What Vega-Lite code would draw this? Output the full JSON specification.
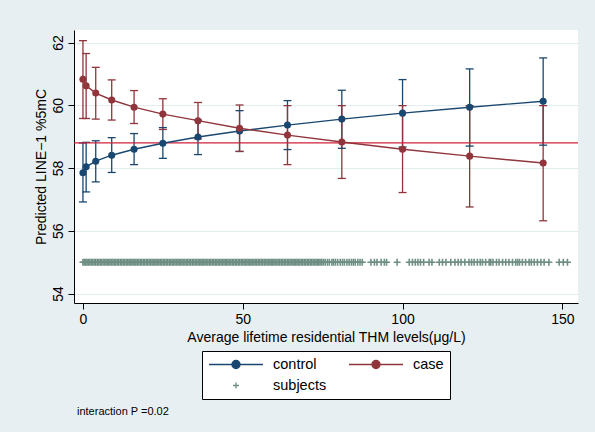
{
  "$schema": "https://vega.github.io/schema/vega-lite/v6.json",
  "width": 504,
  "height": 273,
  "autosize": {"type": "none"},
  "padding": {"left": 74, "top": 30, "right": 17, "bottom": 129},
  "background": "#e8eff2",
  "config": {
    "view": {"fill": "white", "stroke": null},
    "font": "Liberation Sans",
    "axis": {
      "labelFont": "Liberation Sans",
      "labelFontSize": 14,
      "labelColor": "black",
      "titleFont": "Liberation Sans",
      "titleFontSize": 14,
      "titleFontWeight": "normal",
      "titleColor": "black",
      "domainColor": "black",
      "domainWidth": 1,
      "tickColor": "black",
      "tickSize": 6,
      "tickWidth": 1,
      "labelFlush": false,
      "labelOverlap": false
    }
  },
  "title": {
    "text": "interaction P =0.02",
    "orient": "bottom",
    "anchor": "start",
    "frame": "group",
    "font": "Liberation Sans",
    "fontSize": 11,
    "fontWeight": "normal",
    "color": "black",
    "offset": 6,
    "dx": 3
  },
  "datasets": {
    "margins": [
      {"series": "control", "thm": 0, "pred": 57.85, "lo": 56.92, "hi": 58.8},
      {"series": "control", "thm": 1, "pred": 58.04, "lo": 57.24, "hi": 58.82},
      {"series": "control", "thm": 4, "pred": 58.22, "lo": 57.56, "hi": 58.87},
      {"series": "control", "thm": 9, "pred": 58.41, "lo": 57.86, "hi": 58.97},
      {"series": "control", "thm": 16, "pred": 58.6, "lo": 58.11, "hi": 59.1},
      {"series": "control", "thm": 25, "pred": 58.79, "lo": 58.31, "hi": 59.29},
      {"series": "control", "thm": 36, "pred": 58.99, "lo": 58.43, "hi": 59.53},
      {"series": "control", "thm": 49, "pred": 59.18, "lo": 58.53, "hi": 59.83},
      {"series": "control", "thm": 64, "pred": 59.37, "lo": 58.59, "hi": 60.15},
      {"series": "control", "thm": 81, "pred": 59.56, "lo": 58.63, "hi": 60.48},
      {"series": "control", "thm": 100, "pred": 59.75, "lo": 58.67, "hi": 60.82},
      {"series": "control", "thm": 121, "pred": 59.94, "lo": 58.7, "hi": 61.16},
      {"series": "control", "thm": 144, "pred": 60.13, "lo": 58.73, "hi": 61.51},
      {"series": "case", "thm": 0, "pred": 60.83, "lo": 59.58, "hi": 62.06},
      {"series": "case", "thm": 1, "pred": 60.62, "lo": 59.58, "hi": 61.65},
      {"series": "case", "thm": 4, "pred": 60.39, "lo": 59.56, "hi": 61.21},
      {"series": "case", "thm": 9, "pred": 60.17, "lo": 59.53, "hi": 60.81},
      {"series": "case", "thm": 16, "pred": 59.94, "lo": 59.42, "hi": 60.47},
      {"series": "case", "thm": 25, "pred": 59.72, "lo": 59.23, "hi": 60.21},
      {"series": "case", "thm": 36, "pred": 59.51, "lo": 58.93, "hi": 60.09},
      {"series": "case", "thm": 49, "pred": 59.27, "lo": 58.53, "hi": 60.01},
      {"series": "case", "thm": 64, "pred": 59.05, "lo": 58.11, "hi": 59.99},
      {"series": "case", "thm": 81, "pred": 58.83, "lo": 57.67, "hi": 59.99},
      {"series": "case", "thm": 100, "pred": 58.6, "lo": 57.22, "hi": 59.99},
      {"series": "case", "thm": 121, "pred": 58.38, "lo": 56.76, "hi": 59.99},
      {"series": "case", "thm": 144, "pred": 58.16, "lo": 56.32, "hi": 59.99}
    ],
    "subjects": [
      {"series": "subjects", "thm": 0}, {"series": "subjects", "thm": 0.4}, {"series": "subjects", "thm": 0.9}, {"series": "subjects", "thm": 1.3},
      {"series": "subjects", "thm": 1.8}, {"series": "subjects", "thm": 2.2}, {"series": "subjects", "thm": 2.7}, {"series": "subjects", "thm": 3.1},
      {"series": "subjects", "thm": 3.6}, {"series": "subjects", "thm": 4}, {"series": "subjects", "thm": 4.5}, {"series": "subjects", "thm": 4.9},
      {"series": "subjects", "thm": 5.4}, {"series": "subjects", "thm": 5.8}, {"series": "subjects", "thm": 6.3}, {"series": "subjects", "thm": 6.7},
      {"series": "subjects", "thm": 7.2}, {"series": "subjects", "thm": 7.6}, {"series": "subjects", "thm": 8.1}, {"series": "subjects", "thm": 8.5},
      {"series": "subjects", "thm": 9}, {"series": "subjects", "thm": 9.4}, {"series": "subjects", "thm": 9.9}, {"series": "subjects", "thm": 10.3},
      {"series": "subjects", "thm": 10.8}, {"series": "subjects", "thm": 11.2}, {"series": "subjects", "thm": 11.7}, {"series": "subjects", "thm": 12.1},
      {"series": "subjects", "thm": 12.6}, {"series": "subjects", "thm": 13}, {"series": "subjects", "thm": 13.5}, {"series": "subjects", "thm": 13.9},
      {"series": "subjects", "thm": 14.4}, {"series": "subjects", "thm": 14.8}, {"series": "subjects", "thm": 15.3}, {"series": "subjects", "thm": 15.7},
      {"series": "subjects", "thm": 16.2}, {"series": "subjects", "thm": 16.6}, {"series": "subjects", "thm": 17.1}, {"series": "subjects", "thm": 17.5},
      {"series": "subjects", "thm": 18}, {"series": "subjects", "thm": 18.4}, {"series": "subjects", "thm": 18.9}, {"series": "subjects", "thm": 19.3},
      {"series": "subjects", "thm": 19.8}, {"series": "subjects", "thm": 20.2}, {"series": "subjects", "thm": 20.7}, {"series": "subjects", "thm": 21.1},
      {"series": "subjects", "thm": 21.6}, {"series": "subjects", "thm": 22}, {"series": "subjects", "thm": 22.5}, {"series": "subjects", "thm": 22.9},
      {"series": "subjects", "thm": 23.4}, {"series": "subjects", "thm": 23.8}, {"series": "subjects", "thm": 24.3}, {"series": "subjects", "thm": 24.7},
      {"series": "subjects", "thm": 25.2}, {"series": "subjects", "thm": 25.6}, {"series": "subjects", "thm": 26.1}, {"series": "subjects", "thm": 26.5},
      {"series": "subjects", "thm": 27}, {"series": "subjects", "thm": 27.4}, {"series": "subjects", "thm": 27.9}, {"series": "subjects", "thm": 28.3},
      {"series": "subjects", "thm": 28.8}, {"series": "subjects", "thm": 29.2}, {"series": "subjects", "thm": 29.7}, {"series": "subjects", "thm": 30.1},
      {"series": "subjects", "thm": 30.6}, {"series": "subjects", "thm": 31}, {"series": "subjects", "thm": 31.5}, {"series": "subjects", "thm": 31.9},
      {"series": "subjects", "thm": 32.4}, {"series": "subjects", "thm": 32.8}, {"series": "subjects", "thm": 33.3}, {"series": "subjects", "thm": 33.7},
      {"series": "subjects", "thm": 34.2}, {"series": "subjects", "thm": 34.6}, {"series": "subjects", "thm": 35.1}, {"series": "subjects", "thm": 35.5},
      {"series": "subjects", "thm": 36}, {"series": "subjects", "thm": 36.4}, {"series": "subjects", "thm": 36.9}, {"series": "subjects", "thm": 37.3},
      {"series": "subjects", "thm": 37.8}, {"series": "subjects", "thm": 38.2}, {"series": "subjects", "thm": 38.7}, {"series": "subjects", "thm": 39.1},
      {"series": "subjects", "thm": 39.6}, {"series": "subjects", "thm": 40}, {"series": "subjects", "thm": 40.5}, {"series": "subjects", "thm": 40.9},
      {"series": "subjects", "thm": 41.4}, {"series": "subjects", "thm": 41.8}, {"series": "subjects", "thm": 42.3}, {"series": "subjects", "thm": 42.7},
      {"series": "subjects", "thm": 43.2}, {"series": "subjects", "thm": 43.6}, {"series": "subjects", "thm": 44.1}, {"series": "subjects", "thm": 44.5},
      {"series": "subjects", "thm": 45}, {"series": "subjects", "thm": 45.4}, {"series": "subjects", "thm": 45.9}, {"series": "subjects", "thm": 46.3},
      {"series": "subjects", "thm": 46.8}, {"series": "subjects", "thm": 47.2}, {"series": "subjects", "thm": 47.7}, {"series": "subjects", "thm": 48.1},
      {"series": "subjects", "thm": 48.6}, {"series": "subjects", "thm": 49}, {"series": "subjects", "thm": 49.5}, {"series": "subjects", "thm": 49.9},
      {"series": "subjects", "thm": 50.4}, {"series": "subjects", "thm": 50.8}, {"series": "subjects", "thm": 51.3}, {"series": "subjects", "thm": 51.7},
      {"series": "subjects", "thm": 52.2}, {"series": "subjects", "thm": 52.6}, {"series": "subjects", "thm": 53.1}, {"series": "subjects", "thm": 53.5},
      {"series": "subjects", "thm": 54}, {"series": "subjects", "thm": 54.4}, {"series": "subjects", "thm": 54.9}, {"series": "subjects", "thm": 55.3},
      {"series": "subjects", "thm": 55.8}, {"series": "subjects", "thm": 56.2}, {"series": "subjects", "thm": 56.7}, {"series": "subjects", "thm": 57.1},
      {"series": "subjects", "thm": 57.6}, {"series": "subjects", "thm": 58}, {"series": "subjects", "thm": 58.5}, {"series": "subjects", "thm": 58.9},
      {"series": "subjects", "thm": 59.4}, {"series": "subjects", "thm": 59.8}, {"series": "subjects", "thm": 60.3}, {"series": "subjects", "thm": 60.7},
      {"series": "subjects", "thm": 61.2}, {"series": "subjects", "thm": 61.6}, {"series": "subjects", "thm": 62.1}, {"series": "subjects", "thm": 62.5},
      {"series": "subjects", "thm": 63}, {"series": "subjects", "thm": 63.4}, {"series": "subjects", "thm": 63.9}, {"series": "subjects", "thm": 64.3},
      {"series": "subjects", "thm": 64.8}, {"series": "subjects", "thm": 65.2}, {"series": "subjects", "thm": 65.7}, {"series": "subjects", "thm": 66.1},
      {"series": "subjects", "thm": 66.6}, {"series": "subjects", "thm": 67}, {"series": "subjects", "thm": 67.5}, {"series": "subjects", "thm": 67.9},
      {"series": "subjects", "thm": 68.4}, {"series": "subjects", "thm": 68.8}, {"series": "subjects", "thm": 69.3}, {"series": "subjects", "thm": 69.7},
      {"series": "subjects", "thm": 70.2}, {"series": "subjects", "thm": 70.6}, {"series": "subjects", "thm": 71.1}, {"series": "subjects", "thm": 71.5},
      {"series": "subjects", "thm": 72}, {"series": "subjects", "thm": 72.4}, {"series": "subjects", "thm": 72.9}, {"series": "subjects", "thm": 73.3},
      {"series": "subjects", "thm": 73.8}, {"series": "subjects", "thm": 74.2}, {"series": "subjects", "thm": 74.7}, {"series": "subjects", "thm": 75.2},
      {"series": "subjects", "thm": 75.8}, {"series": "subjects", "thm": 76.5}, {"series": "subjects", "thm": 77.1}, {"series": "subjects", "thm": 77.9},
      {"series": "subjects", "thm": 78.4}, {"series": "subjects", "thm": 79}, {"series": "subjects", "thm": 79.7}, {"series": "subjects", "thm": 80.5},
      {"series": "subjects", "thm": 81.2}, {"series": "subjects", "thm": 81.8}, {"series": "subjects", "thm": 82.6}, {"series": "subjects", "thm": 83.3},
      {"series": "subjects", "thm": 84}, {"series": "subjects", "thm": 84.6}, {"series": "subjects", "thm": 85.2}, {"series": "subjects", "thm": 86},
      {"series": "subjects", "thm": 86.7}, {"series": "subjects", "thm": 87.4},
      {"series": "subjects", "thm": 90.1}, {"series": "subjects", "thm": 91.2}, {"series": "subjects", "thm": 92}, {"series": "subjects", "thm": 93.3},
      {"series": "subjects", "thm": 94.3}, {"series": "subjects", "thm": 95}, {"series": "subjects", "thm": 98.3}, {"series": "subjects", "thm": 102.1},
      {"series": "subjects", "thm": 103.1}, {"series": "subjects", "thm": 104}, {"series": "subjects", "thm": 104.8}, {"series": "subjects", "thm": 105.6},
      {"series": "subjects", "thm": 106.6}, {"series": "subjects", "thm": 108.3}, {"series": "subjects", "thm": 109.2}, {"series": "subjects", "thm": 111.5},
      {"series": "subjects", "thm": 112.5}, {"series": "subjects", "thm": 113.6}, {"series": "subjects", "thm": 115.1}, {"series": "subjects", "thm": 116.4},
      {"series": "subjects", "thm": 117.4}, {"series": "subjects", "thm": 118.3}, {"series": "subjects", "thm": 119.5}, {"series": "subjects", "thm": 120.8},
      {"series": "subjects", "thm": 121.6}, {"series": "subjects", "thm": 122.4}, {"series": "subjects", "thm": 123.4}, {"series": "subjects", "thm": 124.3},
      {"series": "subjects", "thm": 125}, {"series": "subjects", "thm": 126}, {"series": "subjects", "thm": 127.1}, {"series": "subjects", "thm": 127.6},
      {"series": "subjects", "thm": 128.3}, {"series": "subjects", "thm": 129.4}, {"series": "subjects", "thm": 130.2}, {"series": "subjects", "thm": 131.3},
      {"series": "subjects", "thm": 132.3}, {"series": "subjects", "thm": 133.3}, {"series": "subjects", "thm": 134.4}, {"series": "subjects", "thm": 135.4},
      {"series": "subjects", "thm": 136}, {"series": "subjects", "thm": 136.6}, {"series": "subjects", "thm": 137.5}, {"series": "subjects", "thm": 138.5},
      {"series": "subjects", "thm": 139.6}, {"series": "subjects", "thm": 140.3}, {"series": "subjects", "thm": 141.2}, {"series": "subjects", "thm": 142.2},
      {"series": "subjects", "thm": 143.3}, {"series": "subjects", "thm": 144.3}, {"series": "subjects", "thm": 145.8}, {"series": "subjects", "thm": 149},
      {"series": "subjects", "thm": 150.3}, {"series": "subjects", "thm": 151.6}
    ],
    "reference": [{"ref": 58.8}]
  },
  "layer": [
    {
      "data": {"name": "subjects"},
      "mark": {"type": "point", "shape": "M-1,0H1M0,-1V1", "size": 49, "filled": false, "strokeWidth": 1.6, "opacity": 1},
      "encoding": {
        "x": {
          "field": "thm", "type": "quantitative",
          "scale": {"domain": [-2.8, 154.9], "nice": false, "zero": false},
          "axis": {"values": [0, 50, 100, 150], "grid": false, "labelPadding": 3, "titlePadding": 4, "title": "Average lifetime residential THM levels(μg/L)"}
        },
        "y": {
          "datum": 55, "type": "quantitative",
          "scale": {"domain": [53.7, 62.4], "nice": false, "zero": false},
          "axis": {"values": [54, 56, 58, 60, 62], "grid": true, "gridColor": "#e3ecef", "gridWidth": 1, "labelAngle": 270, "labelAlign": "center", "labelBaseline": "bottom", "labelPadding": 3, "titlePadding": 3, "title": "Predicted LINE−1 %5mC"}
        },
        "color": {
          "field": "series", "type": "nominal",
          "scale": {"domain": ["control", "case", "subjects"], "range": ["#1a476f", "#90353b", "#6e8e84"]},
          "legend": {
            "title": null,
            "orient": "none",
            "legendX": 128,
            "legendY": 321,
            "columns": 2,
            "direction": "horizontal",
            "symbolSize": 2916,
            "symbolStrokeWidth": 1.3,
            "labelFont": "Liberation Sans",
            "labelFontSize": 14.5,
            "labelColor": "black",
            "labelOffset": 9,
            "columnPadding": 21,
            "rowPadding": 5,
            "padding": 6,
            "clipHeight": 15,
            "strokeColor": "black",
            "fillColor": "white",
            "encoding": {
              "symbols": {
                "shape": {"value": {"expr": "datum.value === 'subjects' ? 'M-0.11,0H0.11M0,-0.11V0.11' : 'M-1,0H1M0.15,0A0.15,0.15 0 1,1 -0.15,0A0.15,0.15 0 1,1 0.15,0Z'"}},
                "fill": {"value": {"expr": "scale('color', datum.value)"}},
                "stroke": {"value": {"expr": "scale('color', datum.value)"}},
                "strokeWidth": {"value": 1.3},
                "opacity": {"value": 1}
              }
            }
          }
        }
      }
    },
    {
      "data": {"name": "margins"},
      "mark": {"type": "rule", "strokeWidth": 1.3},
      "encoding": {
        "x": {"field": "thm", "type": "quantitative"},
        "y": {"field": "lo", "type": "quantitative", "title": "Predicted LINE−1 %5mC"},
        "y2": {"field": "hi"},
        "color": {"field": "series", "type": "nominal"}
      }
    },
    {
      "data": {"name": "margins"},
      "mark": {"type": "tick", "orient": "horizontal", "size": 8, "thickness": 1.3, "opacity": 1},
      "encoding": {
        "x": {"field": "thm", "type": "quantitative"},
        "y": {"field": "lo", "type": "quantitative", "title": "Predicted LINE−1 %5mC"},
        "color": {"field": "series", "type": "nominal"}
      }
    },
    {
      "data": {"name": "margins"},
      "mark": {"type": "tick", "orient": "horizontal", "size": 8, "thickness": 1.3, "opacity": 1},
      "encoding": {
        "x": {"field": "thm", "type": "quantitative"},
        "y": {"field": "hi", "type": "quantitative", "title": "Predicted LINE−1 %5mC"},
        "color": {"field": "series", "type": "nominal"}
      }
    },
    {
      "data": {"name": "reference"},
      "mark": {"type": "rule", "color": "#d0203a", "strokeWidth": 1.2},
      "encoding": {
        "y": {"field": "ref", "type": "quantitative", "title": "Predicted LINE−1 %5mC"}
      }
    },
    {
      "data": {"name": "margins"},
      "mark": {"type": "line", "strokeWidth": 1.4},
      "encoding": {
        "x": {"field": "thm", "type": "quantitative"},
        "y": {"field": "pred", "type": "quantitative", "title": "Predicted LINE−1 %5mC"},
        "color": {"field": "series", "type": "nominal"}
      }
    },
    {
      "data": {"name": "margins"},
      "mark": {"type": "circle", "size": 50, "opacity": 1},
      "encoding": {
        "x": {"field": "thm", "type": "quantitative"},
        "y": {"field": "pred", "type": "quantitative", "title": "Predicted LINE−1 %5mC"},
        "color": {"field": "series", "type": "nominal"}
      }
    }
  ]
}
